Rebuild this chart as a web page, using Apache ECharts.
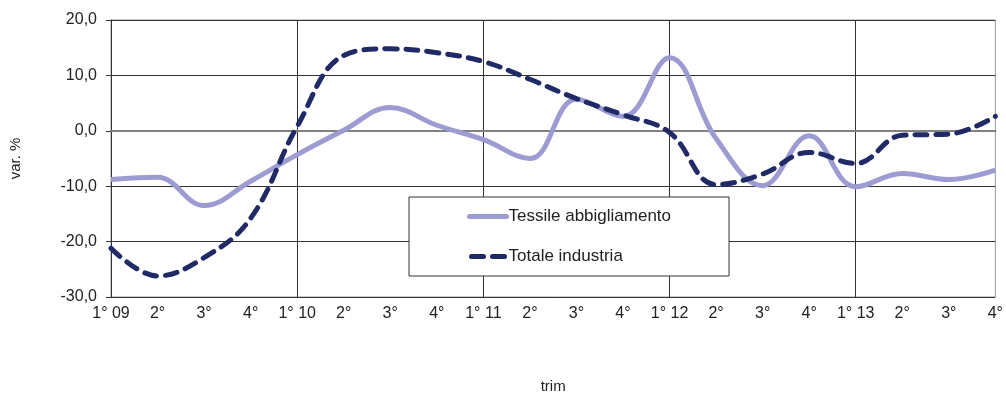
<!DOCTYPE html>
<html>
<head>
<meta charset="utf-8">
<script src="https://cdn.jsdelivr.net/npm/echarts@6/dist/echarts.min.js"></script>
<style>
  html, body { margin: 0; padding: 0; background: #fff; }
  #chart { width: 1006px; height: 399px; }
</style>
</head>
<body>
<div id="chart"></div>
<script>
// trimestri 2009-2013
var trimestri = ['1° 09', '2°', '3°', '4°', '1° 10', '2°', '3°', '4°', '1° 11', '2°', '3°', '4°',
                 '1° 12', '2°', '3°', '4°', '1° 13', '2°', '3°', '4°'];
var tessile = [-8.8, -8.4, -13.5, -9.1, -4.3, 0.1, 4.2, 1.0, -1.6, -5.0, 5.7, 2.6,
               13.2, -1.4, -9.9, -0.9, -10.1, -7.7, -8.8, -7.1];
var totale = [-21.2, -26.2, -22.9, -15.8, 0.8, 13.6, 14.8, 14.1, 12.5, 9.3, 5.8, 2.9,
              -0.3, -9.7, -7.8, -3.9, -5.9, -0.8, -0.6, 2.6];

var chart = echarts.init(document.getElementById('chart'));
var font = 'Liberation Sans, Arial, sans-serif';

var option = {
    animation: false,
    textStyle: { fontFamily: font },
    grid: {
        left: 110, right: 8, top: 20, bottom: 100,
        show: true, borderColor: '#9a9a9a', borderWidth: 1
    },
    legend: {
        orient: 'vertical',
        left: 409, top: 197,
        padding: [11, 58, 11, 58],
        itemGap: 23,
        itemWidth: 37, itemHeight: 14,
        backgroundColor: '#fff',
        borderColor: '#333', borderWidth: 1,
        itemStyle: { opacity: 0 },
        textStyle: { fontFamily: font, fontSize: 17, color: '#222', padding: [0, 0, 0, -3] },
        data: [
            { name: 'Tessile abbigliamento', lineStyle: { width: 5, cap: 'round' } },
            { name: 'Totale industria', lineStyle: { width: 5, cap: 'round', type: [12, 9], dashOffset: -2 } }
        ]
    },
    xAxis: {
        type: 'category',
        boundaryGap: false,
        data: trimestri,
        name: 'trim',
        nameLocation: 'middle',
        nameGap: 82,
        nameTextStyle: { fontSize: 15, color: '#222' },
        axisLine: { lineStyle: { color: '#808080', width: 2 } },
        axisTick: { show: false },
        axisLabel: { interval: 0, margin: 9, fontSize: 16, color: '#222' },
        splitLine: {
            show: true,
            interval: function (idx) { return idx % 4 === 0; },
            lineStyle: { color: '#333', width: 1 }
        }
    },
    yAxis: {
        type: 'value',
        min: -30, max: 20, interval: 10,
        name: 'var. %',
        nameLocation: 'middle',
        nameGap: 88,
        nameRotate: 90,
        nameTextStyle: { fontSize: 15, color: '#222' },
        axisLine: { show: true, lineStyle: { color: '#333' } },
        axisTick: { show: true, length: 5, lineStyle: { color: '#333' } },
        axisLabel: {
            margin: 14, fontSize: 16, color: '#222',
            formatter: function (v) { return v.toFixed(1).replace('.', ','); }
        },
        splitLine: { lineStyle: { color: '#333', width: 1 } }
    },
    series: [{
        name: 'Tessile abbigliamento',
        type: 'line',
        smooth: 0.4,
        symbol: 'none',
        data: tessile,
        itemStyle: { color: '#9c9cd2' },
        lineStyle: { color: '#9c9cd2', width: 5 }
    }, {
        name: 'Totale industria',
        type: 'line',
        smooth: 0.4,
        symbol: 'none',
        data: totale,
        itemStyle: { color: '#1f2a66' },
        lineStyle: { color: '#1f2a66', width: 5, type: [12, 9], cap: 'round' }
    }]
};

chart.setOption(option);
</script>
</body>
</html>
